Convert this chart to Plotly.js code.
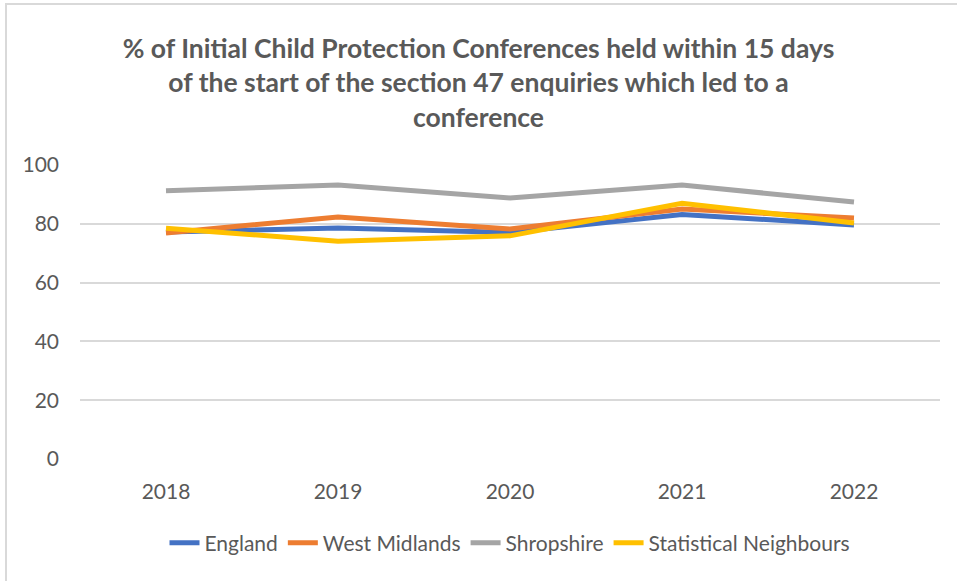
<!DOCTYPE html>
<html>
<head>
<meta charset="utf-8">
<script src="https://cdn.plot.ly/plotly-3.0.1.min.js"></script>
<style>
  html, body { margin: 0; padding: 0; background: #fff; }
  #wrap { position: relative; width: 957px; height: 581px; }
  #chart { width: 957px; height: 581px; }
  #frame { position: absolute; left: 5px; top: 3px; right: 0; bottom: 0;
    border-top: 2px solid #d9d9d9; border-left: 2px solid #d9d9d9; pointer-events: none; }
</style>
</head>
<body>
<div id="wrap"><div id="chart"></div><div id="frame"></div></div>
<script>
const years = ["2018", "2019", "2020", "2021", "2022"];
const england = [77.2, 78.6, 77.0, 83.2, 79.6];
const westMidlands = [76.9, 82.3, 78.2, 85.0, 82.0];
const shropshire = [91.2, 93.2, 88.8, 93.2, 87.4];
const statNeighbours = [78.5, 74.1, 75.9, 87.0, 80.3];
const yTicks = [0, 20, 40, 60, 80, 100];

const font = "Lato, 'Open Sans', sans-serif";
function tr(name, y, color) {
  return { x: years, y: y, name: name, type: "scatter", mode: "lines",
    line: { color: color, width: 5 } };
}
const data = [
  tr("England", england, "#4472C4"),
  tr("West Midlands", westMidlands, "#ED7D31"),
  tr("Shropshire", shropshire, "#A5A5A5"),
  tr("Statistical Neighbours", statNeighbours, "#FFC000")
];
const layout = {
  width: 957, height: 581,
  margin: { l: 80, r: 17, t: 165, b: 122 },
  paper_bgcolor: "rgba(0,0,0,0)", plot_bgcolor: "rgba(0,0,0,0)",
  font: { family: font, color: "#595959", size: 21 },
  title: {
    text: "% of Initial Child Protection Conferences held within 15 days<br>of the start of the section 47 enquiries which led to a<br>conference",
    font: { family: font, size: 26.5, color: "#595959", weight: "bold" },
    x: 0.5, xanchor: "center", xref: "container",
    y: 1 - 58 / 581, yanchor: "middle", yref: "container"
  },
  xaxis: {
    type: "category", range: [-0.5, 4.5], showgrid: false, zeroline: false,
    showline: false, ticks: "", ticklabelstandoff: 18,
    tickfont: { size: 21, color: "#595959" }
  },
  yaxis: {
    range: [0, 100], tickvals: yTicks, ticktext: yTicks.map(String),
    showgrid: true, gridcolor: "#d9d9d9", gridwidth: 2, zeroline: false,
    showline: false, ticks: "", ticklabelstandoff: 20,
    tickfont: { size: 21, color: "#595959" }
  },
  legend: {
    orientation: "h", x: 0.5, xanchor: "center", y: -0.286, yanchor: "middle",
    font: { size: 21, color: "#595959" }, traceorder: "normal", itemwidth: 30
  },
  showlegend: true
};
Plotly.newPlot("chart", data, layout, { displayModeBar: false, staticPlot: true });
</script>
</body>
</html>
